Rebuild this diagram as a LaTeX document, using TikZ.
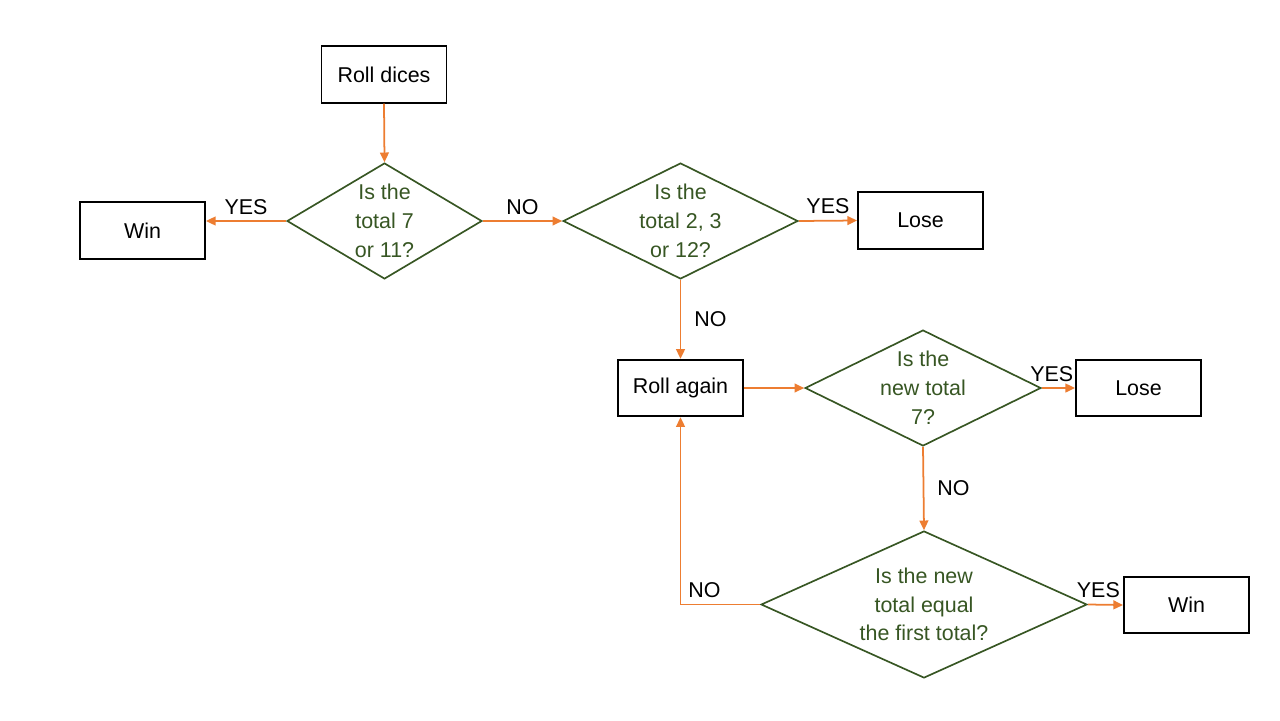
\documentclass[tikz,border=0pt]{standalone}
\usepackage{fontspec}
\setmainfont{Liberation Sans}
\usetikzlibrary{shapes.geometric,arrows.meta}

\definecolor{leaf}{HTML}{375623}
\definecolor{carrot}{HTML}{ED7D31}
\newcommand{\flowfont}{\fontsize{12.2}{16.4}\selectfont}

\begin{document}
\begin{tikzpicture}[x=0.02cm,y=-0.02cm,
        every node/.style={font=\flowfont},
        box/.style={draw=black,line width=1.1pt,minimum width=2.5cm,minimum height=1.13cm,inner sep=0pt},
        decision/.style={diamond,draw=leaf,line width=0.95pt,inner sep=0pt,
            label={[text=leaf,align=center,font=\flowfont]center:{#1}}},
        flow/.style={draw=carrot,line width=1pt,-{Triangle[length=5.5pt,width=5pt]}}]

        \useasboundingbox (0,0) rectangle (1280,720);

        % boxes
        \node[box] (dices) at (384,74.5) {Roll dices};
        \node[box] (win1) at (142.5,230.5) {Win};
        \node[box] (lose1) at (920.5,220.5) {Lose};
        \node[box] (again) at (680.5,388) {Roll again};
        \node[box] (lose2) at (1138.5,388) {Lose};
        \node[box] (win2) at (1186.5,605) {Win};

        % decisions
        \node[decision={Is the\\total 7\\or 11?},minimum width=3.9cm,minimum height=2.32cm] (d1) at (384.5,221) {};
        \node[decision={Is the\\total 2, 3\\or 12?},minimum width=4.7cm,minimum height=2.32cm] (d2) at (680.5,221) {};
        \node[decision={Is the\\new total\\7?},minimum width=4.72cm,minimum height=2.32cm] (d3) at (923,388) {};
        \node[decision={Is the new\\total equal\\the first total?},minimum width=6.52cm,minimum height=2.94cm] (d4) at (924,604.5) {};

        % arrows
        \draw[flow] (dices.south) -- (d1.north);
        \draw[flow] (d1.west) -- (d1.west -| win1.east) node[midway,above] {YES};
        \draw[flow] (d1.east) -- (d2.west) node[midway,above] {NO};
        \draw[flow] (d2.east) -- (lose1.west) node[midway,above] {YES};
        \draw[flow] (d2.south) -- (again.north) node[midway,right=4pt] {NO};
        \draw[flow] (again.east) -- (d3.west);
        \draw[flow] (d3.east) -- (lose2.west) node[pos=0.3,above] {YES};
        \draw[flow] (d3.south) -- (d4.north) node[midway,right=4pt] {NO};
        \draw[flow] (d4.east) -- (win2.west) node[pos=0.3,above] {YES};
        \draw[flow] (d4.west) -| (again.south) node[pos=0.35,above] {NO};
    \end{tikzpicture}
\end{document}
